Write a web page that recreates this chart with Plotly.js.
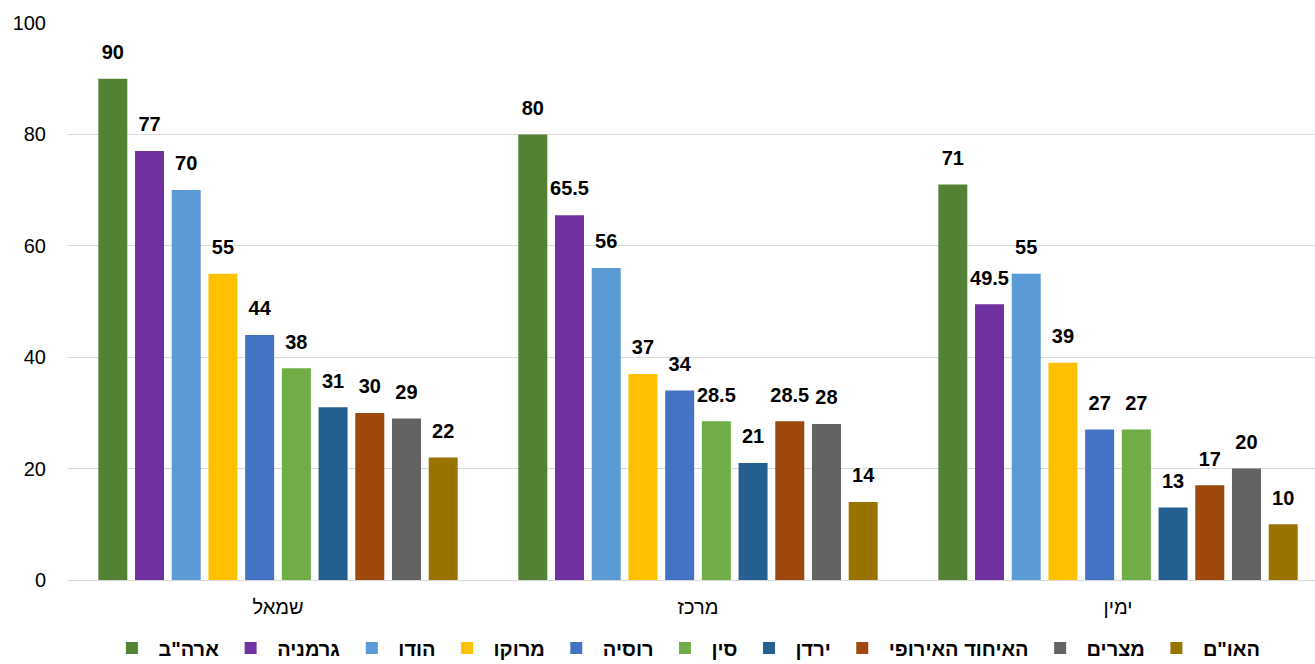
<!DOCTYPE html>
<html>
<head>
<meta charset="utf-8">
<script src="https://cdn.plot.ly/plotly-3.0.1.min.js"></script>
<style>
html,body{margin:0;padding:0;overflow:hidden;background:#fff;}
#chart{width:1328px;height:664px;}
</style>
</head>
<body>
<div id="chart"></div>
<script>
const categories = ['שמאל', 'מרכז', 'ימין'];
const seriesNames = ['ארה"ב', 'גרמניה', 'הודו', 'מרוקו', 'רוסיה', 'סין', 'ירדן', 'האיחוד האירופי', 'מצרים', 'האו"ם'];
const usa = [90, 80, 71];
const germany = [77, 65.5, 49.5];
const india = [70, 56, 55];
const morocco = [55, 37, 39];
const russia = [44, 34, 27];
const china = [38, 28.5, 27];
const jordan = [31, 21, 13];
const eu = [30, 28.5, 17];
const egypt = [29, 28, 20];
const un = [22, 14, 10];
const seriesValues = [usa, germany, india, morocco, russia, china, jordan, eu, egypt, un];
const colors = ['#548235', '#7030A0', '#5B9BD5', '#FFC000', '#4472C4', '#70AD47', '#255E91', '#9E480E', '#636363', '#997300'];

const font = '"Liberation Sans", Arial, sans-serif';

const barTraces = seriesNames.map((name, i) => ({
  type: 'bar',
  name: name,
  x: categories,
  y: seriesValues[i],
  marker: {color: colors[i]},
  offsetgroup: String(i),
  hoverinfo: 'skip'
}));

const labelTraces = seriesNames.map((name, i) => ({
  type: 'scatter',
  mode: 'markers+text',
  name: name + ' labels',
  x: categories,
  y: seriesValues[i],
  offsetgroup: String(i),
  marker: {size: 22, color: 'rgba(0,0,0,0)'},
  text: seriesValues[i].map(v => '<b>' + v + '</b>'),
  textposition: 'top center',
  textfont: {family: font, size: 20, color: '#000'},
  cliponaxis: false,
  showlegend: false,
  hoverinfo: 'skip'
}));

const layout = {
  width: 1328,
  height: 664,
  margin: {l: 68, r: 0, t: 23, b: 84, autoexpand: false},
  barmode: 'group',
  scattermode: 'group',
  bargap: 0.126,
  bargroupgap: 0.21,
  scattergap: 0.126,
  paper_bgcolor: '#fff',
  plot_bgcolor: '#fff',
  font: {family: font, color: '#000'},
  xaxis: {
    showgrid: false,
    showline: false,
    ticks: '',
    tickfont: {family: font, size: 20, color: '#000'},
    ticklabelstandoff: 13
  },
  yaxis: {
    range: [0, 100],
    dtick: 20,
    showgrid: true,
    gridcolor: '#d9d9d9',
    gridwidth: 1,
    zeroline: true,
    zerolinecolor: '#d9d9d9',
    showline: false,
    ticks: '',
    tickfont: {family: font, size: 20, color: '#000'},
    ticklabelstandoff: 21
  },
  showlegend: true,
  legend: {
    orientation: 'h',
    xref: 'paper',
    x: 0.49,
    xanchor: 'center',
    yref: 'container',
    y: 0.024,
    yanchor: 'middle',
    itemwidth: 43,
    font: {family: font, size: 20, color: '#000', weight: 'bold'},
    traceorder: 'normal'
  }
};

Plotly.newPlot('chart', barTraces.concat(labelTraces), layout, {displayModeBar: false, staticPlot: true});
</script>
</body>
</html>
